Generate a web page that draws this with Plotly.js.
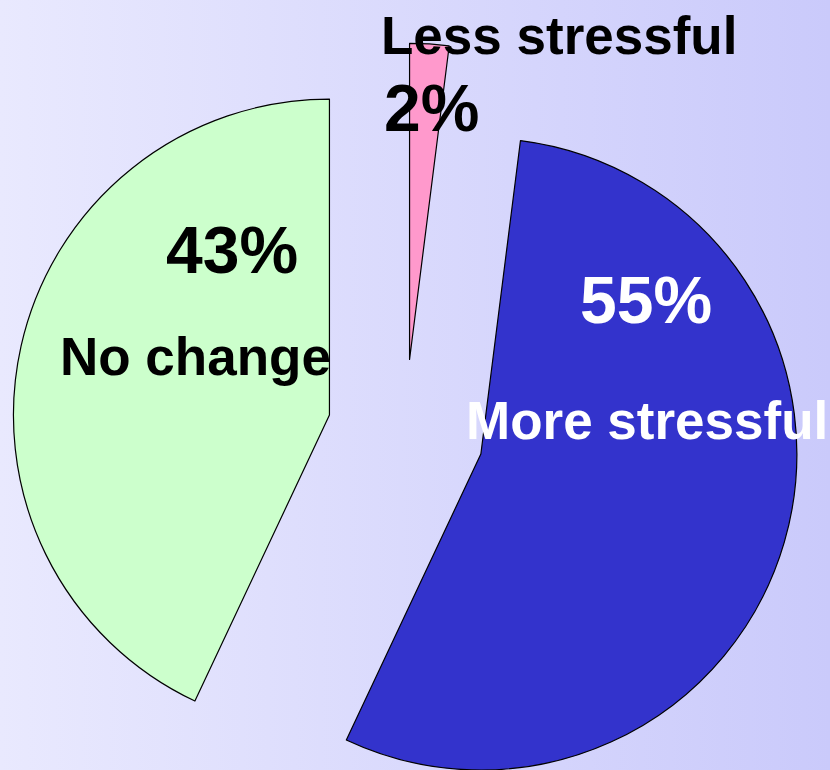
<!DOCTYPE html>
<html>
<head>
<meta charset="utf-8">
<script src="https://cdn.plot.ly/plotly-3.0.1.min.js"></script>
<style>
  html, body { margin: 0; padding: 0; overflow: hidden; }
  body {
    width: 830px;
    height: 770px;
    background: linear-gradient(to right, #e9e9fe, #cacafb);
  }
</style>
</head>
<body>
<div id="stress-pie"></div>
<script>
// Data
const labels = ["Less stressful", "More stressful", "No change"];
const values = [2, 55, 43];
const sliceColors = ["#ff99cc", "#3333cc", "#ccffcc"];

// Layout box (the div is taller than the window so the pie sits low)
const W = 830, H = 864;
const M = { l: 0, r: 20, t: 37, b: 37 };

// pixel -> paper coords for the labels
function px(x) { return (x - M.l) / (W - M.l - M.r); }
function py(y) { return 1 - (y - M.t) / (H - M.t - M.b); }

function pct(i) { return values[i] + "%"; }

function label(text, x, y, size, color) {
  return {
    text, x: px(x), y: py(y), xref: "paper", yref: "paper",
    xanchor: "center", yanchor: "middle", showarrow: false,
    font: { family: "Liberation Sans, Arial, sans-serif", size, color, weight: "bold" },
  };
}

const trace = {
  type: "pie",
  labels,
  values,
  sort: false,
  direction: "clockwise",
  rotation: 0,
  pull: [0.23, 0.25, 0.245],
  textinfo: "none",
  hoverinfo: "none",
  showlegend: false,
  marker: { colors: sliceColors, line: { color: "#000000", width: 1.2 } },
};

const layout = {
  width: W,
  height: H,
  margin: M,
  paper_bgcolor: "rgba(0,0,0,0)",
  plot_bgcolor: "rgba(0,0,0,0)",
  annotations: [
    label(labels[0], 559, 36, 53, "#000000"),
    label(pct(0), 431, 108, 66, "#000000"),
    label(pct(2), 232, 250, 66, "#000000"),
    label(labels[2], 195, 357, 53, "#000000"),
    label(pct(1), 646, 300, 66, "#ffffff"),
    label(labels[1], 647, 421, 53, "#ffffff"),
  ],
};

Plotly.newPlot("stress-pie", [trace], layout, { staticPlot: true, displayModeBar: false });
</script>
</body>
</html>
